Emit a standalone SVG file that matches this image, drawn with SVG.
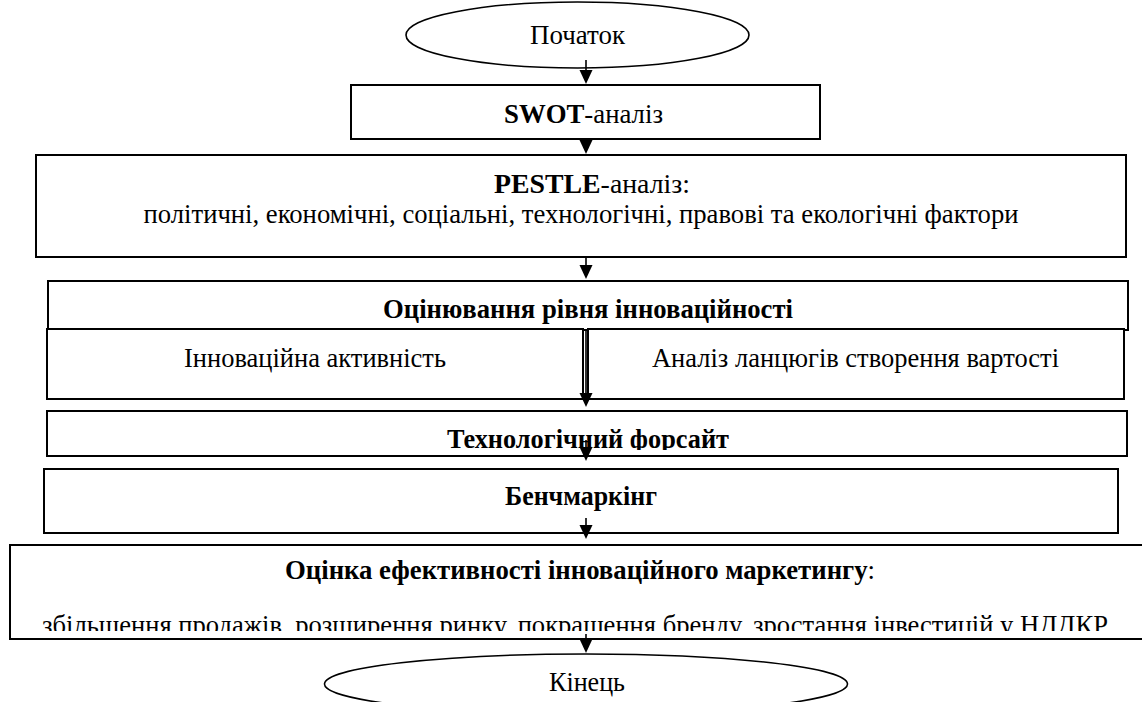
<svg xmlns="http://www.w3.org/2000/svg" width="1142" height="702" viewBox="0 0 1142 702">
<style>
.box{fill:#fff;stroke:#000;stroke-width:2}
.ell{fill:#fff;stroke:#000;stroke-width:1.6}
.t{font-family:"Liberation Serif","Times New Roman",serif;font-size:26.5px;fill:#000;text-anchor:middle}
.b{font-weight:bold}
.ln{stroke:#000;stroke-width:1.6;fill:none}
.ah{fill:#000}
</style>
<defs>
<clipPath id="clipTech"><rect x="40" y="405" width="1100" height="45"/></clipPath>
<clipPath id="clipEff"><rect x="0" y="540" width="1142" height="91"/></clipPath>
</defs>
<rect width="1142" height="702" fill="#fff"/>

<g id="start">
<ellipse class="ell" cx="577.5" cy="35" rx="171.5" ry="33"/>
<text class="t" x="577.5" y="44" textLength="95" lengthAdjust="spacingAndGlyphs">Початок</text>
</g>

<g id="swot">
<rect class="box" x="351" y="85" width="469" height="54"/>
<text class="t" x="583.5" y="123" textLength="159" lengthAdjust="spacingAndGlyphs"><tspan class="b">SWOT</tspan>-аналіз</text>
</g>

<g id="pestle">
<rect class="box" x="36" y="155" width="1090" height="102"/>
<text class="t" x="592" y="193" textLength="196" lengthAdjust="spacingAndGlyphs"><tspan class="b">PESTLE</tspan>-аналіз:</text>
<text class="t" x="581" y="223" textLength="875" lengthAdjust="spacingAndGlyphs">політичні, економічні, соціальні, технологічні, правові та екологічні фактори</text>
</g>

<g id="innovation">
<rect class="box" x="48" y="281" width="1080" height="49"/>
<text class="t b" x="588" y="318" textLength="410" lengthAdjust="spacingAndGlyphs">Оцінювання рівня інноваційності</text>
</g>

<g id="activity">
<rect class="box" x="47" y="329" width="536" height="70"/>
<text class="t" x="315" y="367" textLength="262" lengthAdjust="spacingAndGlyphs">Інноваційна активність</text>
</g>

<g id="valuechain">
<rect class="box" x="588" y="329" width="536" height="70"/>
<text class="t" x="855.5" y="367" textLength="407" lengthAdjust="spacingAndGlyphs">Аналіз ланцюгів створення вартості</text>
</g>

<g id="foresight">
<rect class="box" x="47" y="411" width="1080" height="45"/>
<text class="t b" x="588" y="448" textLength="282" lengthAdjust="spacingAndGlyphs" clip-path="url(#clipTech)">Технологічний форсайт</text>
</g>

<g id="benchmarking">
<rect class="box" x="44" y="469" width="1074" height="64"/>
<text class="t b" x="581" y="505" textLength="152" lengthAdjust="spacingAndGlyphs">Бенчмаркінг</text>
</g>

<g id="efficiency">
<rect class="box" x="10" y="545" width="1150" height="94"/>
<text class="t" x="580" y="579" textLength="590" lengthAdjust="spacingAndGlyphs"><tspan class="b">Оцінка ефективності інноваційного маркетингу</tspan>:</text>
<text class="t" x="575" y="634" textLength="1066" lengthAdjust="spacingAndGlyphs" clip-path="url(#clipEff)">збільшення продажів, розширення ринку, покращення бренду, зростання інвестицій у НДДКР</text>
</g>

<g id="end">
<ellipse class="ell" cx="586" cy="684" rx="261.5" ry="30"/>
<text class="t" x="587" y="691" textLength="76" lengthAdjust="spacingAndGlyphs">Кінець</text>
</g>

<g id="connectors">
<line class="ln" x1="586" y1="60" x2="586" y2="73"/>
<polygon class="ah" points="579.5,70 592.5,70 586,84"/>
<line class="ln" x1="586" y1="139" x2="586" y2="143"/>
<polygon class="ah" points="579.5,140 592.5,140 586,154"/>
<line class="ln" x1="586" y1="257" x2="586" y2="268"/>
<polygon class="ah" points="579.5,265 592.5,265 586,279"/>
<line class="ln" x1="586" y1="329" x2="586" y2="396"/>
<polygon class="ah" points="579.5,393 592.5,393 586,407"/>
<line class="ln" x1="586" y1="440" x2="586" y2="450"/>
<polygon class="ah" points="579.5,447 592.5,447 586,461"/>
<line class="ln" x1="586" y1="518" x2="586" y2="528"/>
<polygon class="ah" points="579.5,525 592.5,525 586,539"/>
<line class="ln" x1="586" y1="634" x2="586" y2="642"/>
<polygon class="ah" points="579.5,639 592.5,639 586,653"/>
</g>
</svg>
